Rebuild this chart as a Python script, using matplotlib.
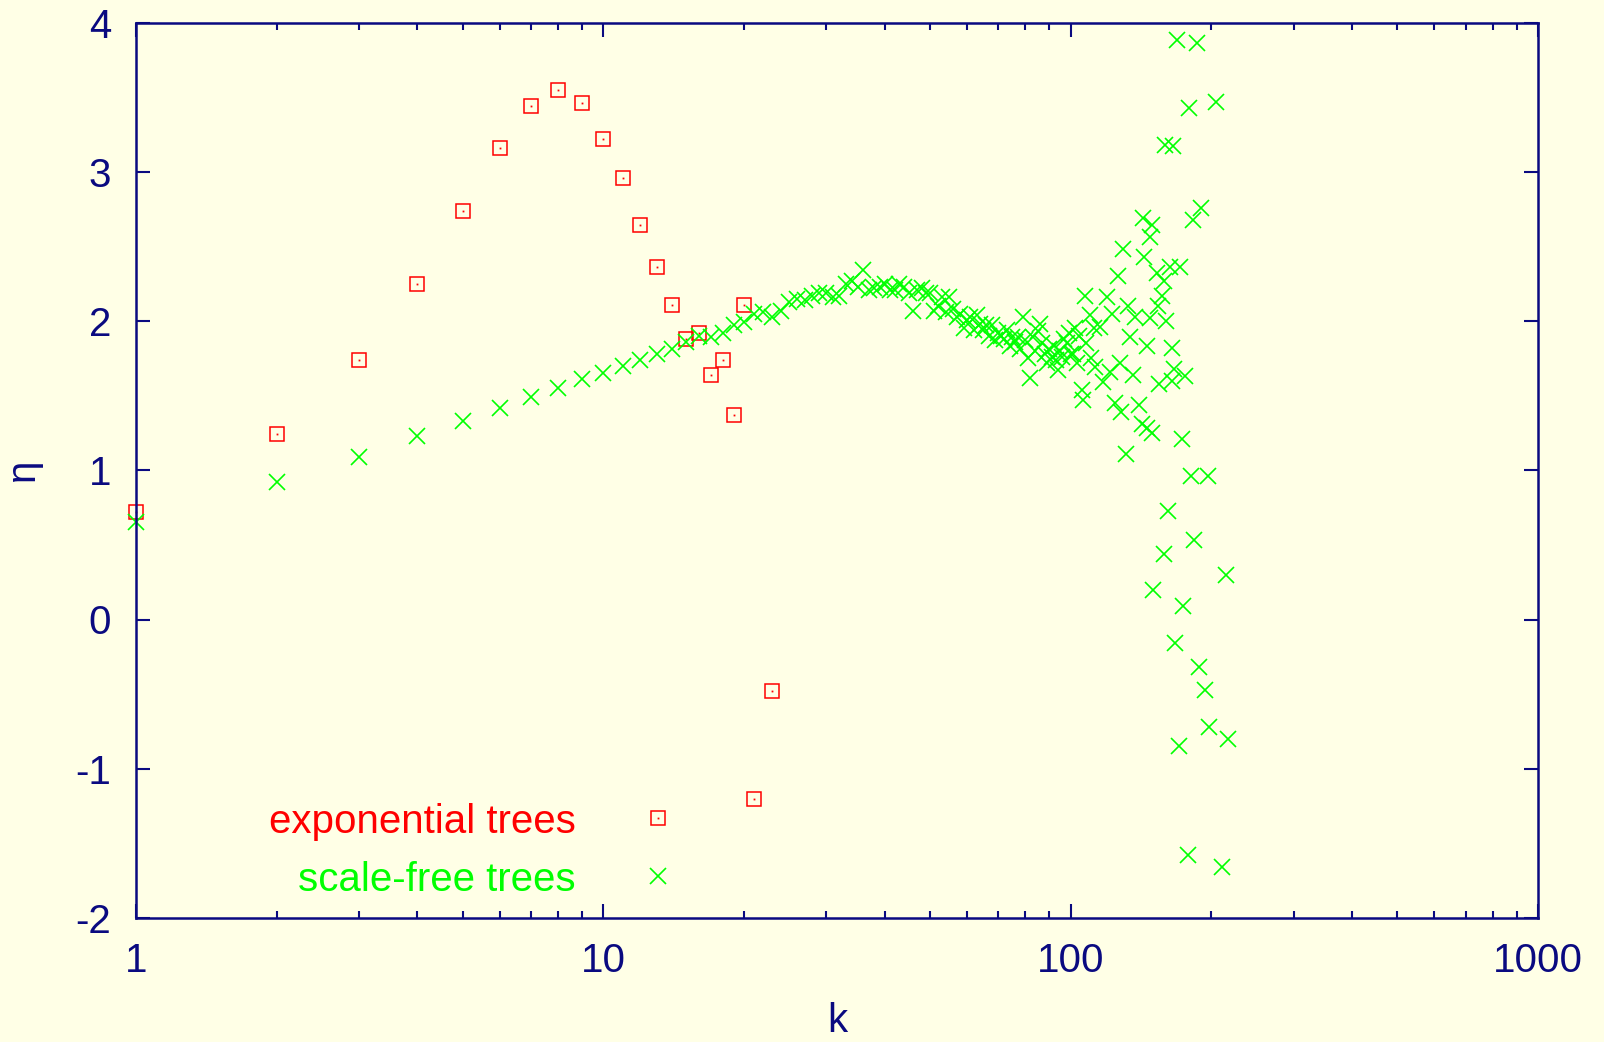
import matplotlib
matplotlib.use("Agg")
import matplotlib.pyplot as plt

# exponential trees
exp_k = [1, 2, 3, 4, 5, 6, 7, 8, 9, 10, 11, 12, 13, 14, 15, 16, 17, 18, 19, 20, 21, 23]
exp_eta = [0.72, 1.24, 1.74, 2.25, 2.74, 3.16, 3.44, 3.55, 3.46, 3.22, 2.96, 2.64, 2.36,
           2.11, 1.88, 1.92, 1.64, 1.74, 1.37, 2.11, -1.20, -0.48]

# scale-free trees
sf_k = [1, 2, 3, 4, 5, 6, 7, 8, 9, 10, 11, 12, 13, 14, 15, 16, 17, 18, 19, 20,
        21, 22, 23, 24, 25, 26, 27, 28, 29, 30, 31, 32, 33, 34, 35, 36, 37, 38, 39, 40,
        41, 42, 43, 44, 45, 46, 47, 48, 49, 50, 51, 52, 53, 54, 55, 56, 57, 58, 59, 60,
        61, 62, 63, 64, 65, 66, 67, 68, 69, 70, 71, 72, 73, 74, 75, 76, 77, 78, 79, 80,
        81, 82, 83, 84, 85, 86, 87, 88, 89, 90, 91, 92, 93, 94, 95, 96, 97, 98, 99, 100,
        101, 102, 103, 104, 105.6, 106.2, 107.4, 108, 110, 110.5, 112, 113, 115.6, 117.5,
        119.5, 121.4, 122.5, 124.5, 126.5, 127.6, 128.2, 129.3, 131.4, 132.9, 134, 136.2,
        137.4, 140.3, 141.9, 142.6, 143.6, 145.5, 145.8, 147.9, 148, 149, 149.5, 150.3,
        152.9, 154, 154.5, 156.6, 158, 158.5, 159.2, 160, 161.4, 163.2, 164.5, 165, 165.4,
        166.4, 167.2, 169.2, 170.3, 171.4, 173, 174.2, 175.8, 178.6, 179.5, 180.7, 182.5,
        183.4, 186.1, 188.2, 189.8, 194.2, 196.5, 197.4, 204.4, 210.6, 215.1, 217.2]
sf_eta = [0.65, 0.92, 1.09, 1.23, 1.33, 1.42, 1.49, 1.55, 1.61, 1.65, 1.70, 1.74, 1.78, 1.81,
          1.86, 1.90, 1.89, 1.92, 1.97, 1.99,
          2.05, 2.06, 2.03, 2.07, 2.13, 2.15, 2.14, 2.17, 2.19, 2.19, 2.16, 2.17, 2.25, 2.27,
          2.23, 2.34, 2.21, 2.22, 2.23, 2.25,
          2.21, 2.21, 2.25, 2.23, 2.19, 2.07, 2.21, 2.22, 2.19, 2.19, 2.07, 2.10, 2.16, 2.06,
          2.16, 2.08, 2.03, 2.05, 1.95, 2.01,
          2.03, 1.94, 2.04, 1.98, 1.94, 1.97, 1.90, 1.97, 1.87, 1.92, 1.90, 1.88, 1.94, 1.83,
          1.89, 1.86, 1.89, 1.81, 2.03, 1.87,
          1.75, 1.62, 1.89, 1.80, 1.93, 1.98, 1.85, 1.78, 1.72, 1.81, 1.76, 1.83, 1.74, 1.67,
          1.80, 1.76, 1.88, 1.85, 1.92, 1.78,
          1.78, 1.95, 1.72, 1.90, 1.54, 1.47, 2.17, 1.85, 2.04, 1.75, 1.95, 1.69, 1.96, 1.59,
          2.16, 1.66, 2.05, 1.45, 2.30, 1.72, 1.39, 2.48, 1.11, 2.10, 1.89, 1.64,
          2.03, 1.44, 1.31, 2.69, 2.43, 1.83, 1.28, 2.56, 2.02, 1.25, 2.64, 0.20,
          2.32, 2.10, 1.58, 2.17, 2.27, 0.44, 3.18, 2.00, 0.73, 2.36, 1.82, 1.60, 3.17,
          1.68, -0.16, 3.88, -0.85, 2.36, 1.21, 0.09, 1.63, -1.58, 3.43, 0.96, 2.68,
          0.53, 3.86, -0.32, 2.76, -0.47, 0.96, -0.72, 3.47, -1.66, 0.30, -0.80]

x_ticks = [1, 10, 100, 1000]
x_ticklabels = ["1", "10", "100", "1000"]
y_ticks = [-2, -1, 0, 1, 2, 3, 4]
y_ticklabels = ["-2", "-1", "0", "1", "2", "3", "4"]
labels = ["exponential trees", "scale-free trees"]

BG = "#FFFFE6"
NAVY = "#0A0A80"
RED = "#FF0000"
GREEN = "#00FF00"
FONT = ["Liberation Sans", "DejaVu Sans"]
FS = 29

plt.rcParams["font.family"] = FONT

fig = plt.figure(figsize=(16.04, 10.42), dpi=100, facecolor=BG)
ax = fig.add_axes([136 / 1604, 1 - 918 / 1042, (1538 - 136) / 1604, (918 - 22.5) / 1042])
ax.set_facecolor(BG)

ax.set_xscale("log")
ax.set_xlim(1, 1000)
ax.set_ylim(-2, 4)

ms_sq = 10.5
ax.plot(exp_k, exp_eta, linestyle="none", marker="s", markersize=ms_sq,
        markerfacecolor="none", markeredgecolor=RED, markeredgewidth=1.1, clip_on=False)
ax.plot(exp_k, exp_eta, linestyle="none", marker="s", markersize=1.3,
        markerfacecolor=RED, markeredgecolor=RED, markeredgewidth=0, clip_on=False)
ax.plot(sf_k, sf_eta, linestyle="none", marker="x", markersize=11,
        markeredgecolor=GREEN, markeredgewidth=1.2, clip_on=False)

# legend (drawn manually, gnuplot-style)
ax.text(0.3138, 0.1075, labels[0], transform=ax.transAxes, ha="right", va="center",
        color=RED, fontsize=FS)
ax.text(0.3138, 0.0425, labels[1], transform=ax.transAxes, ha="right", va="center",
        color=GREEN, fontsize=FS)
ax.plot([0.3723], [0.1117], transform=ax.transAxes, linestyle="none", marker="s",
        markersize=ms_sq, markerfacecolor="none", markeredgecolor=RED, markeredgewidth=1.1)
ax.plot([0.3723], [0.1117], transform=ax.transAxes, linestyle="none", marker="s",
        markersize=1.3, markerfacecolor=RED, markeredgewidth=0)
ax.plot([0.3723], [0.0469], transform=ax.transAxes, linestyle="none", marker="x",
        markersize=11, markeredgecolor=GREEN, markeredgewidth=1.2)

for s in ax.spines.values():
    s.set_color(NAVY)
    s.set_linewidth(1.8)

ax.set_xticks(x_ticks)
ax.set_xticklabels(x_ticklabels)
ax.set_yticks(y_ticks)
ax.set_yticklabels(y_ticklabels)
ax.tick_params(axis="both", which="major", direction="in", length=10, width=1.5,
               color=NAVY, labelcolor=NAVY, labelsize=FS, top=True, right=True)
ax.tick_params(axis="x", which="major", pad=17)
ax.tick_params(axis="y", which="major", pad=18)
ax.tick_params(axis="x", which="minor", direction="in", length=5, width=1.5,
               color=NAVY, top=True)

ax.set_xlabel("k", color=NAVY, fontsize=FS, labelpad=16)
ax.set_ylabel("η", color=NAVY, fontsize=FS, labelpad=24)

fig.savefig("out.png", dpi=100, facecolor=BG)
